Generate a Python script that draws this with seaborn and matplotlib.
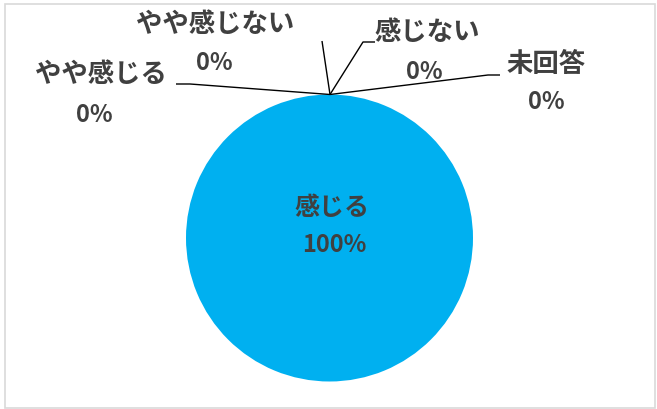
import matplotlib
matplotlib.use("Agg")
import matplotlib.pyplot as plt
import seaborn as sns

categories = ["感じる", "やや感じる", "やや感じない", "感じない", "未回答"]
values = [100, 0, 0, 0, 0]
pct_labels = ["100%", "0%", "0%", "0%", "0%"]

sns.set_theme(style="white")
plt.rcParams['font.family'] = ['Noto Sans CJK JP', 'DejaVu Sans']

W, H = 657, 410
fig = plt.figure(figsize=(W / 100, H / 100), dpi=100)
ax = fig.add_axes([0, 0, 1, 1])
ax.set_xlim(0, W)
ax.set_ylim(H, 0)
ax.set_aspect('equal', adjustable='box')
ax.axis('off')

cx, cy, r = 329.5, 239.0, 143.5
colors = ["#00B0F0", "#ED7D31", "#A5A5A5", "#FFC000", "#5B9BD5"]
ax.pie(values, colors=colors, center=(cx, cy), radius=r, startangle=90,
       counterclock=False, wedgeprops=dict(linewidth=0))
ax.set_xlim(0, W)
ax.set_ylim(H, 0)

# figure border
border = plt.Rectangle((5, 4.5), 650, 404, fill=False, edgecolor="#D9D9D9",
                       linewidth=1.2, transform=ax.transData)
ax.add_patch(border)

base = dict(color="#404040", fontweight="bold", ha="center", va="center")
name_size = {"感じる": 18}
outer_name_size = 19
pct_size = 17

# label positions (name center, pct center) and leader line paths
top = (330, 95.5)
layout = {
    "感じる": ((332, 208), (334, 245), None),
    "やや感じる": ((100.5, 75), (94, 115), [top, (190, 85), (176, 85)]),
    "やや感じない": ((215.5, 25), (214, 63), [top, (322, 42)]),
    "感じない": ((427.5, 33), (424, 72), [top, (363, 43), (375, 43)]),
    "未回答": ((546.5, 64), (546, 102), [top, (488, 76), (500, 76)]),
}

for cat, pct in zip(categories, pct_labels):
    (nx, ny), (px, py), path = layout[cat]
    ax.text(nx, ny, cat, fontsize=name_size.get(cat, outer_name_size), **base)
    ax.text(px, py, pct, fontsize=pct_size, **base)
    if path:
        xs, ys = zip(*path)
        ax.plot(xs, ys, color="#000000", linewidth=1.0, solid_capstyle="butt")

fig.savefig("out.png", dpi=100)
